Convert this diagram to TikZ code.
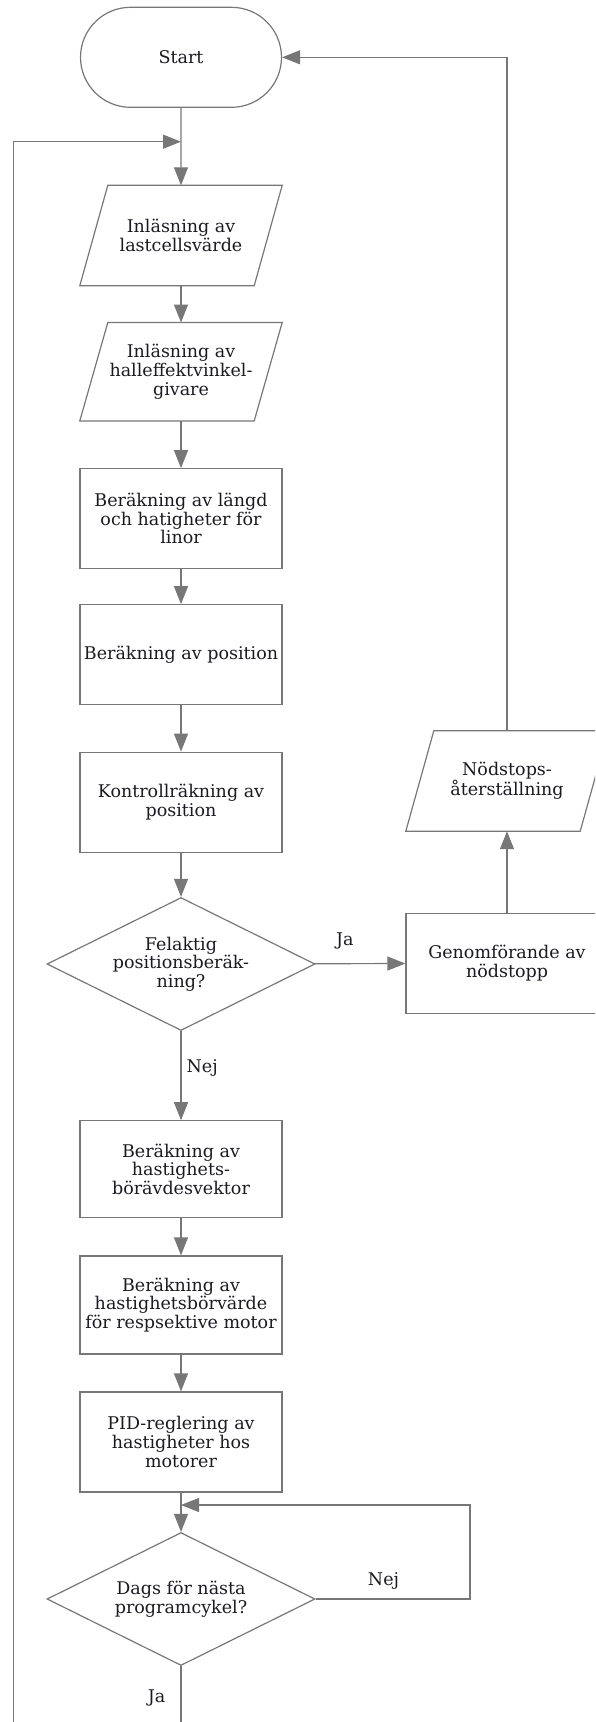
\documentclass[tikz,border=0pt]{standalone}
\usepackage{fontspec}
\setmainfont{DejaVu Serif}
\usetikzlibrary{arrows.meta,shapes.geometric,shapes.misc}
\definecolor{linegray}{HTML}{777777}
\definecolor{inkdark}{HTML}{1A1A22}
\tikzset{
    >={Triangle[length=18pt,width=14pt]},
    flow/.style={
        x=1pt, y=-1pt,
        every node/.append style={text=inkdark,font=\fontsize{17.5}{18.7}\selectfont},
        shapebox/.append style={draw=linegray,line width=1.2pt,align=center,inner sep=0pt},
        term/.append style={shapebox,rounded rectangle,minimum width=201pt,minimum height=100pt},
        io/.append style={align=center,inner sep=0pt,rectangle,minimum width=174pt,minimum height=100pt,
            append after command={\pgfextra{\draw[linegray,line width=1.2pt]
                ([xshift=14pt]\tikzlastnode.north west) -- ([xshift=14pt]\tikzlastnode.north east)
                -- ([xshift=-14pt]\tikzlastnode.south east) -- ([xshift=-14pt]\tikzlastnode.south west) -- cycle;}}},
        proc/.append style={shapebox,rectangle,minimum width=202pt,minimum height=100pt},
        dec/.append style={shapebox,diamond,aspect=2,minimum width=268pt,minimum height=133pt},
        lbl/.append style={inner sep=0pt},
        every edge/.append style={draw=linegray,line width=1.2pt,->}
    }
}

\begin{document}
\begin{tikzpicture}[flow]
    \clip (0,0) rectangle (595,1722);
    \node[term] (start) at (181, 57.3) {Start};
    \coordinate (loop) at (181, 141.7);
    \node[io] (lcell) at (181, 235.5) {Inläsning av\\lastcellsvärde} edge[<-] (start);
    \node[io,minimum height=98pt] (hall) at (181, 371.7) {Inläsning av\\halleffektvinkel-\\givare} edge[<-] (lcell);
    \node[proc] (len) at (181, 518.7) {Beräkning av längd\\och hatigheter för\\linor} edge[<-] (hall);
    \node[proc] (pos) at (181, 654.7) {Beräkning av position} edge[<-] (len);
    \node[proc] (ctrl) at (181, 802.2) {Kontrollräkning av\\position} edge[<-] (pos);
    \node[dec] (err) at (181, 964) {Felaktig\\positionsberäk-\\ning?} edge[<-] (ctrl);
    \node[io] (reset) at (507, 781) {Nödstops-\\återställning};
    \node[proc] (stop) at (507, 963.3) {Genomförande av\\nödstopp}
        edge[<-] node[lbl,pos=.67,above=14pt] {Ja} (err)
        edge (reset);
    \draw[linegray,line width=1.2pt,->] (reset.north) |- (start.east);
    \node[proc,minimum height=97pt] (vec) at (181, 1169.3) {Beräkning av\\hastighets-\\börävdesvektor}
        edge[<-] node[lbl,pos=.585,right=5pt] {Nej} (err);
    \node[proc,minimum height=98pt] (mot) at (181, 1305) {Beräkning av\\hastighetsbörvärde\\för respsektive motor} edge[<-] (vec);
    \node[proc] (pid) at (181, 1442) {PID-reglering av\\hastigheter hos\\motorer} edge[<-] (mot);
    \node[dec] (next) at (181, 1599) {Dags för nästa\\programcykel?} edge[<-] (pid);
    \coordinate (back) at (181, 1505);
    \coordinate (wait) at (470, 1505);
    \coordinate (bot) at (181, 1760);
    \coordinate (botl) at (13.3, 1760);
    \draw[linegray,line width=1.2pt,->] (next.east) -| node[lbl,pos=.22,above=9pt] {Nej} (wait) -- (back);
    \draw[linegray,line width=1.2pt,->] (next.south) -- node[lbl,pos=.34,left=15pt] {Ja} (bot) -- (botl) |- (loop);
\end{tikzpicture}
\end{document}
